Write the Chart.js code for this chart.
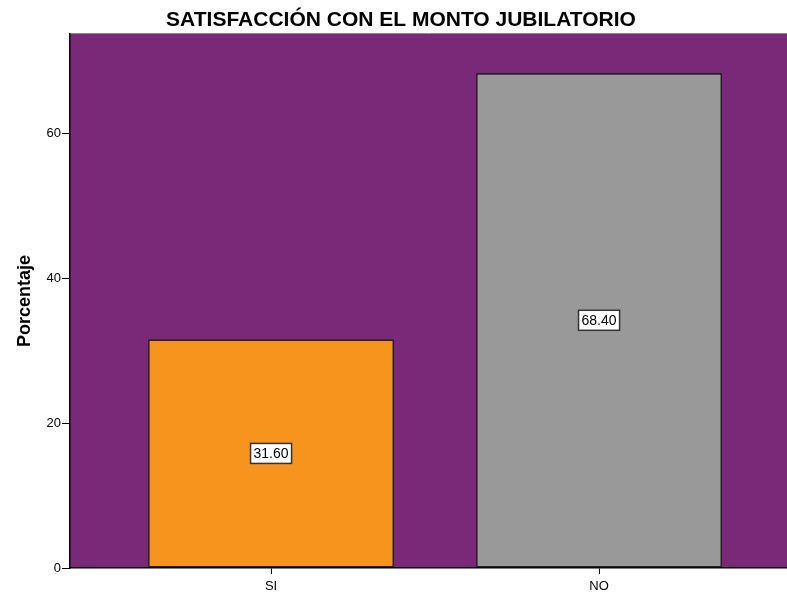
<!DOCTYPE html>
<html>
<head>
<meta charset="utf-8">
<script src="https://cdn.jsdelivr.net/npm/chart.js@4.4.0/dist/chart.umd.min.js"></script>
<style>
  html, body { margin: 0; padding: 0; background: #fff; }
  #wrap { width: 787px; height: 595px; }
</style>
</head>
<body>
<div id="wrap"><canvas id="chart" width="787" height="595"></canvas></div>
<script>
const categories = ["SI", "NO"];
const percentages = [31.60, 68.40];
const barColors = ["#f7941d", "#999999"];
const yTicks = [0, 20, 40, 60];
const chartTitle = "SATISFACCIÓN CON EL MONTO JUBILATORIO";
const yTitle = "Porcentaje";

const FONT = "'Liberation Sans', Arial, sans-serif";

// purple plot background + top border + title
const plotBg = {
  id: "plotBg",
  beforeDraw(chart) {
    const { ctx, chartArea: a } = chart;
    ctx.save();
    ctx.fillStyle = "#7a2878";
    ctx.fillRect(a.left, a.top, a.right - a.left, a.bottom - a.top);
    ctx.strokeStyle = "#8c8c8c";
    ctx.lineWidth = 1;
    ctx.beginPath();
    ctx.moveTo(a.left, a.top - 0.5);
    ctx.lineTo(a.right, a.top - 0.5);
    ctx.stroke();
    ctx.restore();
  },
  afterDraw(chart) {
    const { ctx } = chart;
    ctx.save();
    ctx.fillStyle = "#000";
    ctx.font = "bold 21px " + FONT;
    ctx.textAlign = "center";
    ctx.textBaseline = "middle";
    ctx.fillText(chartTitle, 401, 20);
    ctx.restore();
  }
};

// boxed value labels in the middle of each bar
const valueBoxes = {
  id: "valueBoxes",
  afterDatasetsDraw(chart) {
    const { ctx } = chart;
    const meta = chart.getDatasetMeta(0);
    ctx.save();
    ctx.font = "14px " + FONT;
    ctx.textAlign = "center";
    ctx.textBaseline = "middle";
    meta.data.forEach(function (bar, i) {
      const txt = percentages[i].toFixed(2);
      const cy = (bar.y + bar.base) / 2;
      const w = ctx.measureText(txt).width + 6;
      const h = 20;
      ctx.fillStyle = "#fff";
      ctx.fillRect(bar.x - w / 2, cy - h / 2, w, h);
      ctx.strokeStyle = "#333";
      ctx.lineWidth = 1.5;
      ctx.strokeRect(bar.x - w / 2, cy - h / 2, w, h);
      ctx.fillStyle = "#000";
      ctx.fillText(txt, bar.x, cy + 1);
    });
    ctx.restore();
  }
};

const points = categories.map(function (c, i) {
  return { x: i + 1, y: percentages[i] };
});

new Chart(document.getElementById("chart"), {
  type: "bar",
  data: {
    datasets: [{
      data: points,
      backgroundColor: barColors,
      borderColor: "#222",
      borderWidth: 1.6,
      borderSkipped: false,
      barPercentage: 0.75,
      categoryPercentage: 1
    }]
  },
  options: {
    responsive: false,
    animation: false,
    layout: { padding: { top: 34, right: 0, left: 0, bottom: 0 } },
    plugins: {
      legend: { display: false },
      tooltip: { enabled: false }
    },
    scales: {
      x: {
        type: "linear",
        offset: false,
        min: 0.387,
        max: 2.573,
        afterBuildTicks: function (axis) {
          axis.ticks = categories.map(function (c, i) { return { value: i + 1 }; });
        },
        afterFit: function (axis) { axis.height = 27; },
        ticks: {
          color: "#000",
          font: { family: FONT, size: 13 },
          padding: 5,
          callback: function (v) { return categories[v - 1] || ""; }
        },
        grid: { offset: false, drawOnChartArea: false, drawTicks: true, tickLength: 6, color: "#000" },
        border: { color: "#000", width: 1.5 }
      },
      y: {
        min: 0,
        max: 73.8,
        afterBuildTicks: function (axis) {
          axis.ticks = yTicks.map(function (v) { return { value: v }; });
        },
        afterFit: function (axis) { axis.width = 70; },
        title: {
          display: true,
          text: yTitle,
          color: "#000",
          font: { family: FONT, size: 18, weight: "bold" },
          padding: { top: 14, bottom: 0 }
        },
        ticks: {
          color: "#000",
          font: { family: FONT, size: 13 },
          padding: 1
        },
        grid: { drawOnChartArea: false, drawTicks: true, tickLength: 8, color: "#000" },
        border: { color: "#000", width: 1.5 }
      }
    }
  },
  plugins: [plotBg, valueBoxes]
});
</script>
</body>
</html>
